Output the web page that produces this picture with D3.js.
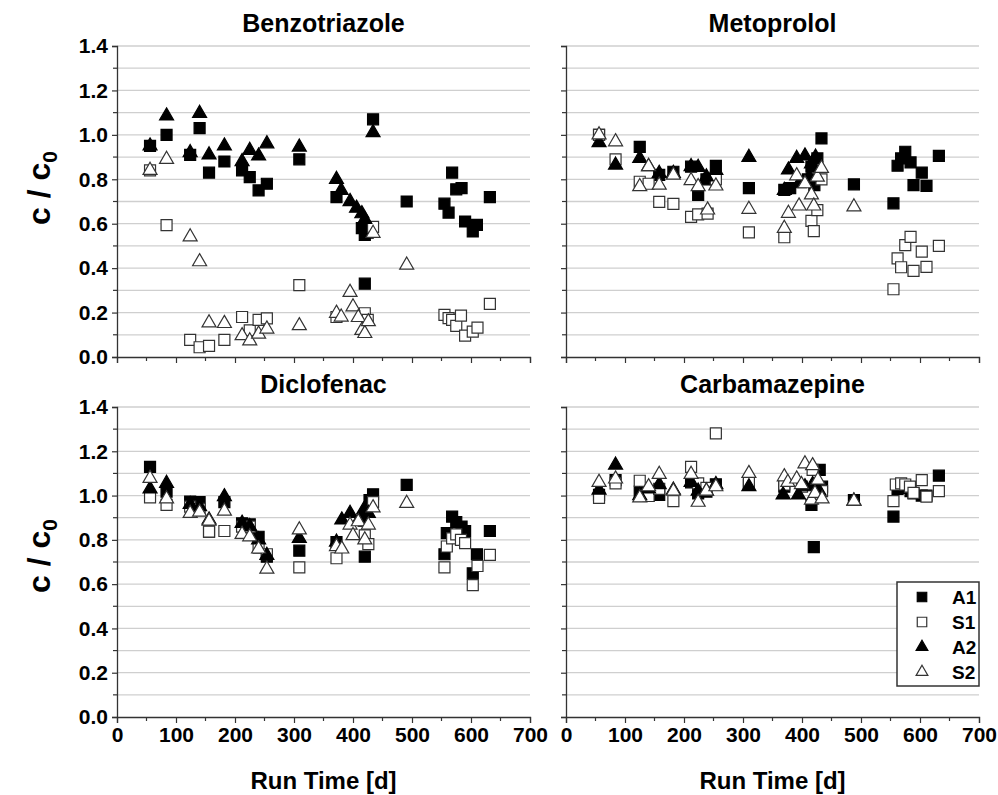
<!DOCTYPE html>
<html>
<head>
<meta charset="utf-8">
<script src="https://cdn.jsdelivr.net/npm/d3@7"></script>
<style>
  body { margin: 0; background: #fff; }
  svg { display: block; font-family: Arial, "Liberation Sans", sans-serif; }
</style>
</head>
<body>
<div class="content"></div>
<script>
// Series and panels
const seriesNames = ["A1", "S1", "A2", "S2"];
const panelTitles = ["Benzotriazole", "Metoprolol", "Diclofenac", "Carbamazepine"];
const xTicks = [0, 100, 200, 300, 400, 500, 600, 700];
const yTicks = [0, 0.2, 0.4, 0.6, 0.8, 1.0, 1.2, 1.4];

// [run time (d), c/c0]
const benzotriazoleA1 = [[56,0.95],[84,1.00],[124,0.91],[140,1.03],[156,0.83],[182,0.88],[212,0.84],[225,0.81],[240,0.75],[254,0.78],[309,0.89],[372,0.72],[415,0.58],[420,0.55],[425,0.56],[420,0.33],[434,1.07],[491,0.70],[555,0.69],[562,0.65],[568,0.83],[575,0.755],[584,0.76],[590,0.61],[603,0.565],[610,0.595],[632,0.72]];
const benzotriazoleS1 = [[56,0.84],[84,0.594],[124,0.077],[140,0.044],[156,0.05],[182,0.077],[212,0.18],[225,0.12],[240,0.167],[254,0.174],[309,0.324],[372,0.18],[420,0.197],[425,0.167],[434,0.586],[555,0.19],[562,0.175],[568,0.167],[575,0.14],[583,0.186],[590,0.096],[603,0.114],[611,0.132],[632,0.239]];
const benzotriazoleA2 = [[56,0.95],[84,1.085],[124,0.92],[140,1.097],[156,0.91],[182,0.95],[212,0.88],[225,0.93],[240,0.905],[254,0.96],[309,0.945],[372,0.80],[380,0.75],[395,0.70],[406,0.67],[415,0.645],[420,0.62],[434,1.01]];
const benzotriazoleS2 = [[56,0.84],[84,0.89],[124,0.541],[140,0.429],[156,0.154],[182,0.151],[212,0.096],[225,0.073],[240,0.103],[254,0.126],[309,0.141],[372,0.197],[380,0.18],[395,0.291],[400,0.226],[409,0.178],[415,0.12],[420,0.106],[426,0.159],[434,0.557],[491,0.414]];

const metoprololA1 = [[56,1.0],[125,0.946],[158,0.82],[182,0.834],[212,0.857],[224,0.73],[238,0.80],[254,0.86],[310,0.76],[370,0.752],[380,0.76],[410,0.80],[416,0.857],[421,0.774],[426,0.894],[433,0.984],[488,0.777],[555,0.692],[562,0.861],[568,0.894],[575,0.924],[584,0.876],[589,0.774],[603,0.83],[611,0.77],[632,0.905]];
const metoprololS1 = [[56,1.0],[84,0.89],[125,0.789],[140,0.78],[158,0.698],[182,0.689],[212,0.631],[224,0.642],[240,0.645],[254,0.80],[310,0.561],[370,0.539],[416,0.613],[420,0.567],[426,0.661],[433,0.80],[555,0.305],[562,0.444],[568,0.404],[575,0.504],[584,0.541],[589,0.388],[603,0.474],[611,0.406],[632,0.50]];
const metoprololA2 = [[56,0.965],[84,0.864],[125,0.894],[140,0.857],[158,0.827],[182,0.827],[212,0.857],[224,0.854],[238,0.811],[254,0.84],[310,0.899],[370,0.75],[377,0.842],[391,0.894],[395,0.78],[405,0.905],[412,0.81],[416,0.87],[423,0.90]];
const metoprololS2 = [[56,1.0],[84,0.969],[125,0.767],[140,0.857],[158,0.774],[182,0.819],[212,0.794],[224,0.767],[240,0.662],[254,0.77],[310,0.665],[370,0.579],[377,0.647],[391,0.816],[395,0.68],[405,0.78],[416,0.73],[420,0.68],[426,0.81],[433,0.849],[488,0.676]];

const diclofenacA1 = [[56,1.13],[84,1.018],[124,0.973],[140,0.97],[156,0.837],[182,0.97],[212,0.875],[225,0.87],[240,0.814],[254,0.724],[309,0.751],[372,0.79],[420,0.724],[428,0.98],[434,1.006],[491,1.048],[555,0.735],[559,0.83],[568,0.905],[575,0.88],[584,0.86],[590,0.84],[603,0.649],[610,0.735],[632,0.84]];
const diclofenacS1 = [[56,0.992],[84,0.958],[124,0.95],[140,0.94],[156,0.837],[182,0.84],[212,0.86],[225,0.86],[240,0.765],[254,0.735],[309,0.676],[372,0.717],[420,0.82],[426,0.781],[434,0.97],[555,0.676],[559,0.77],[568,0.807],[575,0.825],[583,0.80],[590,0.785],[603,0.596],[611,0.682],[632,0.732]];
const diclofenacA2 = [[56,1.03],[84,1.055],[124,0.96],[140,0.95],[156,0.89],[182,0.995],[212,0.875],[225,0.86],[240,0.80],[254,0.73],[309,0.807],[372,0.79],[381,0.89],[395,0.92],[412,0.90],[418,0.935],[421,0.88],[426,0.92]];
const diclofenacS2 = [[56,1.078],[84,0.985],[124,0.92],[140,0.925],[156,0.885],[182,0.93],[212,0.825],[225,0.814],[240,0.759],[254,0.668],[309,0.845],[372,0.77],[381,0.759],[395,0.867],[400,0.819],[409,0.882],[420,0.80],[426,0.867],[434,0.945],[491,0.965]];

const carbamazepineA1 = [[56,1.003],[84,1.07],[125,1.018],[140,1.0],[158,1.003],[212,1.06],[224,1.01],[238,1.018],[254,1.051],[310,1.048],[370,1.04],[416,0.958],[420,0.767],[430,1.116],[434,1.04],[488,0.98],[555,0.905],[562,1.03],[568,1.035],[584,1.02],[589,1.01],[603,1.0],[611,1.0],[632,1.09]];
const carbamazepineS1 = [[56,0.99],[84,1.055],[125,1.067],[140,0.998],[158,1.03],[182,0.975],[212,1.13],[224,1.055],[238,1.035],[254,1.281],[310,1.06],[370,1.05],[400,1.04],[418,1.116],[434,1.02],[555,0.975],[559,1.05],[568,1.055],[575,1.05],[583,1.04],[589,1.012],[603,1.07],[611,0.995],[632,1.02]];
const carbamazepineA2 = [[56,1.025],[84,1.138],[125,1.0],[140,1.03],[158,1.05],[182,1.025],[212,1.06],[224,1.02],[238,1.02],[254,1.05],[310,1.04],[368,1.003],[394,1.003],[405,1.04],[418,1.05],[429,1.02],[488,0.975]];
const carbamazepineS2 = [[56,1.06],[84,1.075],[125,0.99],[140,1.04],[158,1.096],[182,1.02],[212,1.096],[224,0.97],[238,1.02],[254,1.04],[310,1.1],[370,1.085],[376,1.06],[391,1.075],[399,1.05],[405,1.143],[416,0.98],[418,1.135],[422,1.01],[427,1.07],[434,0.985],[488,0.975]];

const panelData = [
  [benzotriazoleA1, benzotriazoleS1, benzotriazoleA2, benzotriazoleS2],
  [metoprololA1, metoprololS1, metoprololA2, metoprololS2],
  [diclofenacA1, diclofenacS1, diclofenacA2, diclofenacS2],
  [carbamazepineA1, carbamazepineS1, carbamazepineA2, carbamazepineS2],
];

// Layout
const W = 998, H = 795;
const cols = [{ x0: 117, x1: 530 }, { x0: 566, x1: 979 }];
const rows = [{ y0: 357, y1: 46 }, { y0: 717, y1: 407 }];

const svg = d3.select(".content").append("svg").attr("width", W).attr("height", H);

// Marker styles
const markerStyle = {
  A1: { type: d3.symbolSquare, size: 121, fill: "#000", stroke: "#000" },
  S1: { type: d3.symbolSquare, size: 121, fill: "#fff", stroke: "#333" },
  A2: { type: d3.symbolTriangle, size: 85, fill: "#000", stroke: "#000" },
  S2: { type: d3.symbolTriangle, size: 85, fill: "#fff", stroke: "#333" },
};

panelTitles.forEach((title, p) => {
  const col = cols[p % 2];
  const row = rows[Math.floor(p / 2)];
  const isLeft = p % 2 === 0;
  const isBottom = p >= 2;

  const x = d3.scaleLinear().domain([0, 700]).range([col.x0, col.x1]);
  const y = d3.scaleLinear().domain([0, 1.4]).range([row.y0, row.y1]);

  const g = svg.append("g");

  // gridlines every 0.1
  const gridVals = d3.range(1, 15).map((i) => i / 10);
  g.append("g")
    .selectAll("line")
    .data(gridVals)
    .join("line")
    .attr("x1", col.x0)
    .attr("x2", col.x1)
    .attr("y1", (d) => y(d))
    .attr("y2", (d) => y(d))
    .attr("stroke", "#cfcfcf")
    .attr("stroke-width", 1.3);

  // y axis
  const yAxis = d3.axisLeft(y).tickValues(yTicks).tickSize(5).tickPadding(4)
    .tickFormat(isLeft ? d3.format(".1f") : () => "");
  const yg = g.append("g").attr("transform", `translate(${col.x0},0)`).call(yAxis);
  yg.attr("font-size", null).attr("font-family", null);
  yg.select(".domain").attr("stroke", "#333").attr("stroke-width", 1.3);
  yg.selectAll(".tick line").attr("stroke", "#333").attr("stroke-width", 1.2);
  yg.selectAll(".tick text")
    .style("font-size", "21px").style("font-weight", "bold").attr("fill", "#000");
  // minor y ticks
  g.append("g").selectAll("line")
    .data(d3.range(1, 14, 2).map((i) => i / 10))
    .join("line")
    .attr("x1", col.x0 - 4).attr("x2", col.x0)
    .attr("y1", (d) => y(d)).attr("y2", (d) => y(d))
    .attr("stroke", "#333").attr("stroke-width", 1.2);

  // x axis
  const xAxis = d3.axisBottom(x).tickValues(xTicks).tickSize(6).tickPadding(4)
    .tickFormat(isBottom ? d3.format("d") : () => "");
  const xg = g.append("g").attr("transform", `translate(0,${row.y0})`).call(xAxis);
  xg.attr("font-size", null).attr("font-family", null);
  xg.select(".domain").attr("stroke", "#333").attr("stroke-width", 1.3);
  xg.selectAll(".tick line").attr("stroke", "#333").attr("stroke-width", 1.2);
  xg.selectAll(".tick text")
    .style("font-size", "21px").style("font-weight", "bold").attr("fill", "#000");
  // minor x ticks
  g.append("g").selectAll("line")
    .data(d3.range(50, 700, 100))
    .join("line")
    .attr("x1", (d) => x(d)).attr("x2", (d) => x(d))
    .attr("y1", row.y0).attr("y2", row.y0 + 4)
    .attr("stroke", "#333").attr("stroke-width", 1.2);

  // title
  g.append("text")
    .attr("x", (col.x0 + col.x1) / 2)
    .attr("y", row.y1 - 14)
    .attr("text-anchor", "middle")
    .style("font-weight", "bold")
    .style("font-size", "25px")
    .text(title);

  // markers
  seriesNames.forEach((name, s) => {
    const st = markerStyle[name];
    const sym = d3.symbol().type(st.type).size(st.size);
    g.append("g")
      .selectAll("path")
      .data(panelData[p][s])
      .join("path")
      .attr("d", sym)
      .attr("transform", (d) => `translate(${x(d[0])},${y(d[1])})`)
      .attr("fill", st.fill)
      .attr("stroke", st.stroke)
      .attr("stroke-width", 1.2);
  });

  // y label
  if (isLeft) {
    const cy = isBottom ? 556 : 188;
    const lbl = svg.append("text")
      .attr("transform", `translate(50,${cy}) rotate(-90)`)
      .attr("text-anchor", "middle")
      .style("font-weight", "bold")
      .style("font-size", "32px");
    lbl.append("tspan").text("c / c");
    lbl.append("tspan").attr("dy", 7).style("font-size", "21px").text("0");
  }

  // x label
  if (isBottom) {
    svg.append("text")
      .attr("x", (col.x0 + col.x1) / 2)
      .attr("y", 789)
      .attr("text-anchor", "middle")
      .style("font-weight", "bold")
      .style("font-size", "24px")
      .text("Run Time [d]");
  }
});

// Legend
const legend = svg.append("g").attr("transform", "translate(897,582)");
legend.append("rect")
  .attr("width", 82).attr("height", 104)
  .attr("fill", "#fff").attr("stroke", "#333").attr("stroke-width", 1.5);

const legendSize = { A1: 90, S1: 90, A2: 60, S2: 60 };
seriesNames.forEach((name, i) => {
  const st = markerStyle[name];
  const ly = 15 + i * 25;
  legend.append("path")
    .attr("d", d3.symbol().type(st.type).size(legendSize[name]))
    .attr("transform", `translate(25,${ly})`)
    .attr("fill", st.fill)
    .attr("stroke", st.stroke)
    .attr("stroke-width", 1.2);
  legend.append("text")
    .attr("x", 55).attr("y", ly)
    .attr("dy", "0.36em")
    .style("font-weight", "bold")
    .style("font-size", "19px")
    .text(name);
});
</script>
</body>
</html>
